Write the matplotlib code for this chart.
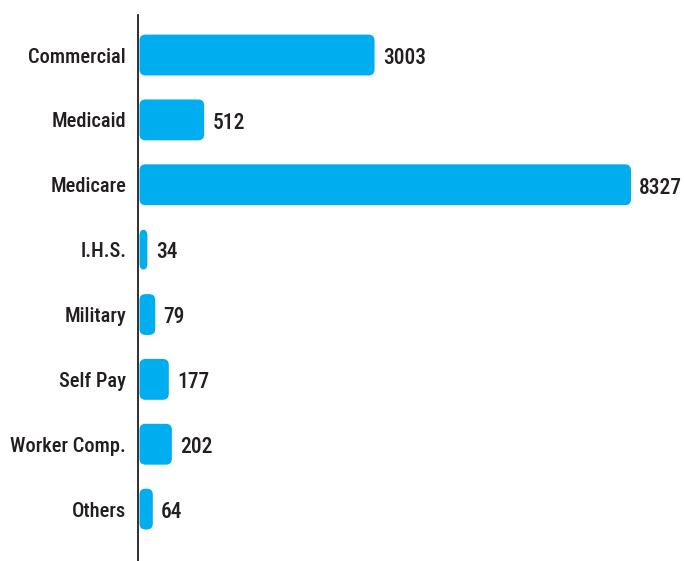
import numpy as np
import matplotlib

matplotlib.use("Agg")
import matplotlib.pyplot as plt
from matplotlib import font_manager
from matplotlib.patches import FancyBboxPatch
from matplotlib.transforms import IdentityTransform, ScaledTranslation


payers = ["Commercial", "Medicaid", "Medicare", "I.H.S.", "Military", "Self Pay", "Worker Comp.", "Others"]
counts = [3003, 512, 8327, 34, 79, 177, 202, 64]

BAR_COLOR = "#00AEEF"
TEXT_COLOR = "#231F20"
POWER = 0.72  # bars in the source are drawn on a compressed (power) scale


def _pick_font() -> dict:
    fonts = font_manager.fontManager.ttflist
    names = {f.name for f in fonts}
    for cand in ("Roboto Condensed", "Open Sans Condensed", "Noto Sans Condensed", "Liberation Sans Narrow"):
        if cand in names:
            return {"family": cand, "stretch": "normal"}
    for f in fonts:
        if "Condensed" in f.name or "Narrow" in f.name:
            return {"family": f.name, "stretch": "normal"}
    for f in fonts:
        if f.name == "DejaVu Sans" and f.stretch in ("condensed", "semi-condensed"):
            return {"family": "DejaVu Sans", "stretch": "condensed"}
    return {"family": "Roboto", "stretch": "normal"}


font = _pick_font()
plt.rcParams["font.family"] = [font["family"], "DejaVu Sans"]
plt.rcParams["font.stretch"] = font["stretch"]

W, H = 684, 561
fig = plt.figure(figsize=(W / 100, H / 100), dpi=100)
ax = fig.add_axes([138 / W, 0, (W - 138) / W, (H - 15) / H])

ax.set_xscale(
    "function",
    functions=(lambda x: np.sign(x) * np.abs(x) ** POWER, lambda y: np.sign(y) * np.abs(y) ** (1 / POWER)),
)
ax.set_xlim(0, max(counts) * (546 / 493) ** (1 / POWER))
ax.set_ylim(7.80, -0.617)

pos = np.arange(len(payers))
bars = ax.barh(pos, counts, height=0.63, color=BAR_COLOR)

# swap the square bars for rounded ones with the same extent
for bar in bars:
    ext = bar.get_window_extent()
    bar.set_visible(False)
    rounded = FancyBboxPatch(
        (ext.x0 + 1.5, ext.y0),
        ext.width - 1.5,
        ext.height,
        boxstyle="round,pad=0,rounding_size=6",
        transform=IdentityTransform(),
        facecolor=BAR_COLOR,
        edgecolor="none",
        zorder=1,
    )
    ax.add_artist(rounded)

for y, value in zip(pos, counts):
    ax.annotate(
        f"{value}",
        xy=(value, y),
        xytext=(6, -2),
        textcoords="offset points",
        ha="left",
        va="center",
        fontsize=15.5,
        fontweight="medium",
        color=TEXT_COLOR,
    )

ax.set_yticks(pos, payers, fontsize=14.8, fontweight="medium", color=TEXT_COLOR)
shift = ScaledTranslation(0, -2 / 72, fig.dpi_scale_trans)
for lbl in ax.get_yticklabels():
    lbl.set_transform(lbl.get_transform() + shift)
ax.set_xticks([])
ax.tick_params(axis="y", length=0, pad=8.5)
for side in ("top", "right", "bottom"):
    ax.spines[side].set_visible(False)
ax.spines["left"].set_linewidth(1.3)
ax.spines["left"].set_color(TEXT_COLOR)

fig.savefig("out.png", dpi=100)
plt.close(fig)
